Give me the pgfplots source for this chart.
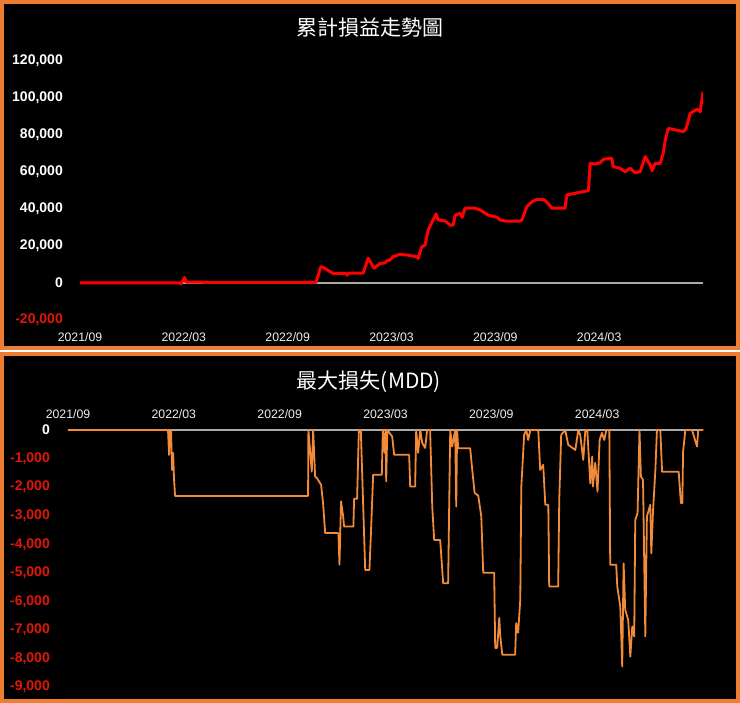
\documentclass[border=0pt]{standalone}
\usepackage{fontspec}
\setmainfont{Liberation Sans}
\newfontfamily\cjk{Noto Sans CJK TC}
\usepackage{pgfplots}
\pgfplotsset{compat=1.18}
\definecolor{panelorange}{RGB}{237,125,49}
\definecolor{mddorange}{RGB}{241,139,58}
\definecolor{negred}{RGB}{225,22,10}
\definecolor{zerogray}{RGB}{170,170,170}
\definecolor{ticktext}{RGB}{238,238,238}

\pgfplotstableread{
m v
0 0
5.78 0
5.84 -500
5.95 1500
6.05 3000
6.13 500
8.00 300
13.64 300
13.91 8700
14.05 8600
14.30 7000
14.62 5200
15.42 5100
15.43 4200
15.55 5300
16.36 5300
16.65 13400
16.99 8000
17.34 10500
17.60 10800
17.75 12000
17.92 12400
18.09 14200
18.50 15500
19.00 15000
19.46 14200
19.54 13300
19.75 19600
19.94 20500
20.12 28600
20.35 33100
20.58 37300
20.69 34100
21.10 33500
21.39 31300
21.56 31300
21.68 36700
21.97 37600
22.08 35500
22.25 40400
22.83 40400
23.12 39500
23.58 36700
24.10 35500
24.28 34000
24.57 33500
25.43 33500
25.53 34000
25.82 41200
26.10 43800
26.40 45200
26.78 45200
27.00 43500
27.27 40400
28.03 40400
28.13 47600
28.61 48500
29.09 49400
29.38 50000
29.48 64700
29.77 64300
30.06 65000
30.25 66900
30.73 67400
30.81 62900
31.21 62000
31.50 60200
31.79 62000
32.08 59600
32.37 60200
32.66 68300
32.95 63800
33.06 60700
33.24 64700
33.53 64700
33.70 70100
33.82 77300
33.99 83600
34.87 81800
35.03 83600
35.26 91700
35.66 93900
35.84 92600
35.90 97100
36.01 103400
}\cumdata

\pgfplotstableread{
m v
0 0
5.67 0
5.73 -875
5.79 0
5.84 0
5.90 -1400
5.96 -800
6.01 -1700
6.07 -2310
13.61 -2310
13.63 0
13.82 -1460
13.90 0
14.01 -1630
14.12 -1690
14.35 -1920
14.46 -2560
14.58 -3610
15.33 -3610
15.39 -4720
15.48 -2500
15.60 -3030
15.65 -3380
16.18 -3380
16.22 -2410
16.39 -2410
16.49 0
16.60 0
16.85 -4900
17.09 -4900
17.17 -3670
17.30 -1570
17.79 -1570
17.85 0
17.95 -800
18.00 0
18.04 -1800
18.10 0
18.38 -230
18.49 -870
19.34 -870
19.40 -1980
19.68 -1980
19.74 0
19.85 -800
19.97 0
20.08 -450
20.25 -630
20.36 0
20.53 0
20.65 -2680
20.76 -3850
21.10 -3850
21.27 -5370
21.55 -5370
21.67 0
21.78 -580
21.95 0
22.01 -2680
22.06 0
22.12 -640
22.80 -640
22.92 -1400
23.05 -2200
23.26 -2300
23.43 -3030
23.54 -5000
24.16 -5000
24.22 -7630
24.33 -7630
24.45 -6580
24.50 -7170
24.62 -7870
25.35 -7870
25.41 -6760
25.52 -7100
25.64 -5950
25.70 -1980
25.86 -170
25.98 0
26.09 -350
26.21 0
26.66 0
26.77 -1400
26.94 -1220
27.06 -2620
27.23 -2620
27.28 -5480
27.79 -5480
27.85 -2450
27.96 -170
28.19 0
28.36 -520
28.76 -700
28.93 0
29.04 -170
29.21 -1050
29.33 0
29.44 0
29.61 -1870
29.72 -930
29.76 -1980
29.89 -1150
30.02 -2160
30.14 -350
30.27 -100
30.40 -350
30.52 0
30.69 0
30.74 -4720
31.08 -4720
31.14 -5480
31.31 -6180
31.42 -8280
31.50 -4670
31.59 -6300
31.76 -6650
31.88 -7940
31.99 -6880
32.10 -7230
32.16 -3150
32.29 -2910
32.40 0
32.48 -1630
32.60 -1750
32.73 -7230
32.82 -3030
33.01 -2620
33.07 -4320
33.17 -2800
33.30 -1400
33.39 0
33.58 0
33.68 -1460
34.62 -1460
34.75 -2560
34.83 -2560
34.87 -760
35.00 0
35.38 0
35.66 -580
35.73 0
36.02 0
}\mdddata

\begin{document}
\begin{tikzpicture}[x=1pt,y=1pt]
\useasboundingbox (0,0) rectangle (740,703);
\fill[white] (0,0) rectangle (740,703);
\fill[black] (0,353) rectangle (740,703);
\draw[panelorange, line width=4pt] (2,355) rectangle (738,701);
\fill[black] (0,0) rectangle (740,351);
\draw[panelorange, line width=4pt] (2,2) rectangle (738,349);

\node[text=white, font=\cjk\fontsize{21}{21}\selectfont] at (370,675) {累計損益走勢圖};
\node[text=white, font=\cjk\fontsize{21}{21}\selectfont] at (369,321) {最大損失(MDD)};

\begin{axis}[
  at={(80pt,383pt)}, anchor=south west, scale only axis,
  width=623pt, height=259pt,
  xmin=0, xmax=36, ymin=-20000, ymax=120000,
  scaled ticks=false,
  axis line style={draw=none}, major tick length=0pt,
  xtick={0,6,12,18,24,30},
  xticklabels={2021/09,2022/03,2022/09,2023/03,2023/09,2024/03},
  ytick={-20000,0,20000,40000,60000,80000,100000,120000},
  yticklabels={{\textcolor{negred}{-20,000}},0,{20,000},{40,000},{60,000},{80,000},{100,000},{120,000}},
  x tick label style={text=ticktext, font=\fontsize{12.3}{12.3}\selectfont, anchor=north, inner sep=0pt, yshift=-12pt},
  y tick label style={text=white, font=\fontsize{14}{14}\selectfont\bfseries, anchor=east, inner sep=0pt, xshift=-17pt},
]
\addplot[zerogray, line width=1.2pt] coordinates {(0,0) (36,0)};
\addplot[red, line width=3pt, line join=round] table[x=m,y=v] {\cumdata};
\end{axis}

\begin{axis}[
  at={(68pt,16pt)}, anchor=south west, scale only axis,
  width=635pt, height=257pt,
  xmin=0, xmax=36, ymin=-9000, ymax=0,
  scaled ticks=false,
  axis line style={draw=none}, major tick length=0pt,
  xticklabel pos=top,
  xtick={0,6,12,18,24,30},
  xticklabels={2021/09,2022/03,2022/09,2023/03,2023/09,2024/03},
  ytick={-9000,-8000,-7000,-6000,-5000,-4000,-3000,-2000,-1000,0},
  yticklabels={{\textcolor{negred}{-9,000}},{\textcolor{negred}{-8,000}},{\textcolor{negred}{-7,000}},{\textcolor{negred}{-6,000}},{\textcolor{negred}{-5,000}},{\textcolor{negred}{-4,000}},{\textcolor{negred}{-3,000}},{\textcolor{negred}{-2,000}},{\textcolor{negred}{-1,000}},0},
  x tick label style={text=ticktext, font=\fontsize{12.3}{12.3}\selectfont, anchor=south, inner sep=0pt, yshift=11.5pt},
  y tick label style={text=white, font=\fontsize{14}{14}\selectfont\bfseries, anchor=east, inner sep=0pt, xshift=-18pt},
  clip=false,
]
\addplot[zerogray, line width=1.2pt] coordinates {(0,0) (36,0)};
\addplot[mddorange, line width=1.8pt, line join=round] table[x=m,y=v] {\mdddata};
\end{axis}
\end{tikzpicture}
\end{document}
